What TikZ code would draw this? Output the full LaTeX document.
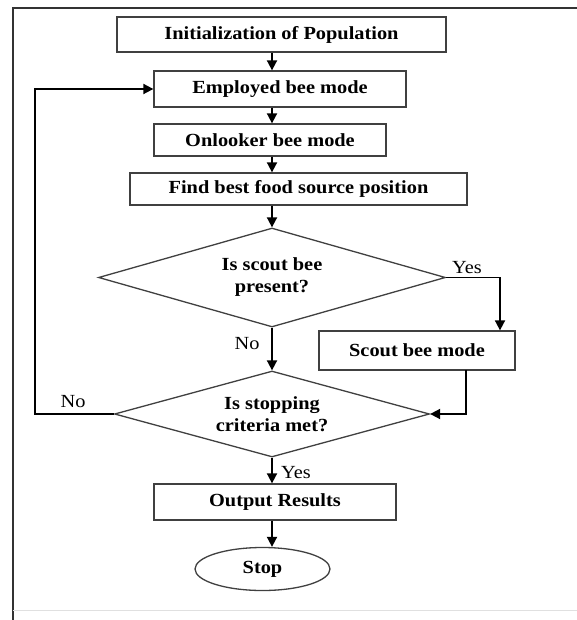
\documentclass[tikz,border=0pt]{standalone}
\usepackage{fontspec}
\setmainfont{Liberation Serif}[FakeStretch=1.1]
\usetikzlibrary{shapes.geometric,arrows.meta}
\begin{document}
\begin{tikzpicture}[x=1pt,y=1pt,
  box/.style={draw=black!75,line width=1.3pt,rectangle,inner sep=0pt,font=\fontsize{18.5}{21}\selectfont\bfseries},
  dec/.style={draw=black!75,line width=1.3pt,diamond,shape aspect=3.5,inner sep=0pt,align=center,font=\fontsize{18.5}{22}\selectfont\bfseries},
  term/.style={draw=black!75,line width=1.3pt,ellipse,inner sep=0pt,font=\fontsize{18.5}{21}\selectfont\bfseries},
  arr/.style={draw=black,line width=1.8pt,-{Triangle[length=10pt,width=10pt]}},
  lbl/.style={font=\fontsize{18.5}{21}\selectfont,inner sep=0pt}]
\useasboundingbox (0,0) rectangle (577,-620);
\fill[white] (0,0) rectangle (577,-620);
% frame
\draw[black!80,line width=1.5pt] (13,-620) -- (13,-8) -- (577,-8);
\draw[black!12,line width=1pt] (13,-610) -- (577,-610);
% nodes
\node[box,minimum width=329pt,minimum height=35pt] (init) at (281.5,-34.5) {Initialization of Population};
\node[box,minimum width=252pt,minimum height=36pt] (emp) at (280,-89) {Employed bee mode};
\node[box,minimum width=232pt,minimum height=32pt] (onl) at (270,-140) {Onlooker bee mode};
\node[box,minimum width=337pt,minimum height=32pt] (find) at (298.5,-189) {Find best food source position};
\node[dec,minimum width=347pt,minimum height=99pt] (d1) at (272,-277.5) {Is scout bee\\present?};
\node[box,minimum width=196pt,minimum height=39pt] (scout) at (417,-350.5) {Scout bee mode};
\node[dec,minimum width=315pt,minimum height=86pt] (d2) at (272,-414) {Is stopping\\criteria met?};
\node[box,minimum width=242pt,minimum height=36pt] (out) at (275,-502) {Output Results};
\node[term,minimum width=135pt,minimum height=43pt] (stop) at (262.5,-569) {Stop};
% coordinates
\coordinate (yc) at (500,-277.5);
\coordinate (sc) at (466,-370);
\coordinate (nc) at (35,-414);
% connectors
\draw[arr] (d1.north |- init.south) -- (d1.north |- emp.north);
\draw[arr] (d1.north |- emp.south) -- (d1.north |- onl.north);
\draw[arr] (d1.north |- onl.south) -- (d1.north |- find.north);
\draw[arr] (d1.north |- find.south) -- (d1.north);
\draw[arr] (d1.east) -- (yc) -- (yc |- scout.north);
\draw[arr] (d1.south) -- (d2.north);
\draw[arr] (sc) |- (d2.east);
\draw[arr] (d2.west) -- (nc) |- (emp.west);
\draw[arr] (d2.south) -- (d2.south |- out.north);
\draw[arr] (d2.south |- out.south) -- (d2.south |- stop.north);
% labels
\node[lbl] (ly1) at (467,-268) {Yes};
\node[lbl] (ln1) at (247,-344) {No};
\node[lbl] (ln2) at (73,-402) {No};
\node[lbl] (ly2) at (296,-473) {Yes};
\end{tikzpicture}
\end{document}
